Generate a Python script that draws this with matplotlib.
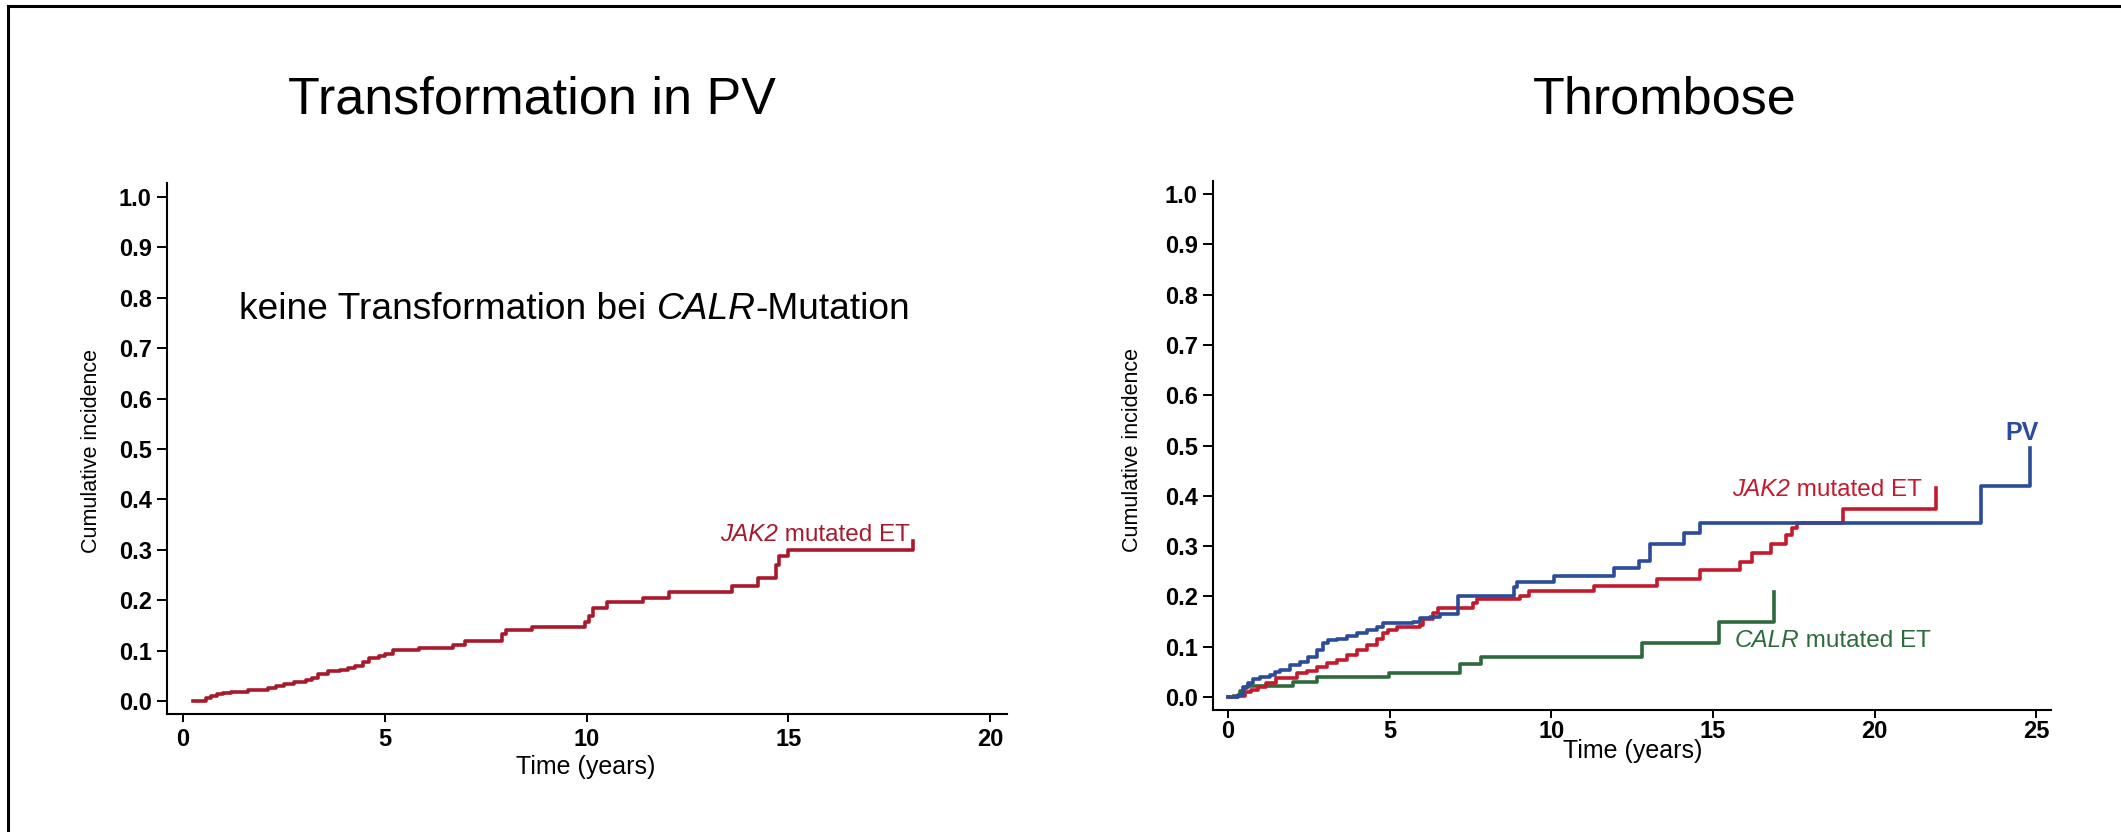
import matplotlib
matplotlib.use("Agg")
import matplotlib.pyplot as plt
from matplotlib.lines import Line2D
from matplotlib.text import Annotation

plt.rcParams['font.family'] = ['Liberation Sans', 'DejaVu Sans']

# Transformation in PV - JAK2 mutated ET (step points, time in years)
pv_jak2_t = [0.25, 0.57, 0.7, 0.85, 1.0, 1.2, 1.6, 2.1, 2.3, 2.5, 2.75, 3.05, 3.2, 3.35, 3.6,
             3.9, 4.1, 4.25, 4.45, 4.6, 4.85, 5.0, 5.2, 5.85, 6.7, 7.0, 7.9, 8.0, 8.65, 9.95,
             10.05, 10.15, 10.5, 11.4, 12.05, 13.6, 14.25, 14.7, 14.78, 15.0, 18.1]
pv_jak2_v = [0.0, 0.006, 0.01, 0.013, 0.016, 0.018, 0.021, 0.025, 0.029, 0.034, 0.038, 0.041,
             0.046, 0.053, 0.059, 0.062, 0.066, 0.070, 0.078, 0.086, 0.089, 0.093, 0.101, 0.106,
             0.112, 0.120, 0.133, 0.140, 0.147, 0.156, 0.168, 0.184, 0.196, 0.205, 0.216, 0.229,
             0.244, 0.27, 0.288, 0.30, 0.318]

# Thrombose - PV
thr_pv_t = [0, 0.3, 0.46, 0.62, 0.77, 0.98, 1.29, 1.45, 1.6, 1.91, 2.22, 2.48, 2.74, 2.94, 3.1,
            3.36, 3.67, 3.98, 4.29, 4.6, 4.8, 5.73, 5.94, 6.25, 6.56, 7.13, 8.85, 8.95, 10.1,
            11.95, 12.7, 13.05, 14.1, 14.6, 23.3, 24.8]
thr_pv_v = [0.0, 0.005, 0.019, 0.027, 0.035, 0.04, 0.043, 0.05, 0.054, 0.063, 0.07, 0.08, 0.093,
            0.107, 0.113, 0.116, 0.121, 0.127, 0.133, 0.14, 0.147, 0.15, 0.157, 0.16, 0.165, 0.2,
            0.218, 0.228, 0.24, 0.256, 0.271, 0.305, 0.327, 0.346, 0.419, 0.496]

# Thrombose - JAK2 mutated ET
thr_jak2_t = [0, 0.31, 0.52, 0.72, 0.93, 1.19, 1.5, 2.12, 2.43, 2.74, 3.05, 3.36, 3.67, 3.98,
              4.29, 4.6, 4.8, 4.96, 5.22, 5.94, 6.04, 6.35, 6.51, 7.59, 7.7, 9.04, 9.3, 11.31,
              13.27, 14.6, 15.84, 16.2, 16.8, 17.26, 17.45, 17.6, 19.03, 21.9]
thr_jak2_v = [0, 0.003, 0.01, 0.014, 0.02, 0.027, 0.038, 0.047, 0.052, 0.06, 0.067, 0.073,
              0.083, 0.093, 0.103, 0.115, 0.127, 0.133, 0.139, 0.143, 0.155, 0.167, 0.177,
              0.187, 0.195, 0.2, 0.21, 0.22, 0.235, 0.252, 0.268, 0.287, 0.305, 0.323, 0.336,
              0.346, 0.374, 0.416]

# Thrombose - CALR mutated ET
thr_calr_t = [0.2, 0.36, 0.5, 0.6, 2.0, 2.76, 4.98, 7.18, 7.83, 12.8, 15.18, 16.9]
thr_calr_v = [0.003, 0.012, 0.018, 0.022, 0.03, 0.039, 0.048, 0.065, 0.079, 0.107, 0.149, 0.208]

y_ticks = [0.0, 0.1, 0.2, 0.3, 0.4, 0.5, 0.6, 0.7, 0.8, 0.9, 1.0]
left_xticks = [0, 5, 10, 15, 20]
right_xticks = [0, 5, 10, 15, 20, 25]

RED_DARK = '#a81a2b'
RED = '#c41a2e'
BLUE = '#2b4c9a'
GREEN = '#2e6b3c'

W, H = 2121, 832
fig = plt.figure(figsize=(W / 100, H / 100), dpi=100)


def make_axes(x0, x1, ytop, ybot):
    return fig.add_axes([x0 / W, 1 - ybot / H, (x1 - x0) / W, (ybot - ytop) / H])


def style(ax, xticks, xpad):
    for s in ['top', 'right']:
        ax.spines[s].set_visible(False)
    for s in ['left', 'bottom']:
        ax.spines[s].set_linewidth(1.5)
    ax.set_yticks(y_ticks)
    ax.set_yticklabels([f"{v:.1f}" for v in y_ticks])
    ax.set_xticks(xticks)
    ax.tick_params(axis='y', length=7, width=1.4, pad=4, labelsize=17)
    ax.tick_params(axis='x', length=6, width=1.4, pad=xpad, labelsize=17)
    for lab in ax.get_xticklabels() + ax.get_yticklabels():
        lab.set_fontweight('bold')


def mixed_text(target, x, y, parts, transform, **kw):
    # parts: list of (string, fontstyle), drawn left to right on one baseline
    prev = target.text(x, y, parts[0][0], style=parts[0][1], ha='left', va='baseline',
                       transform=transform, **kw)
    for s, st in parts[1:]:
        a = Annotation(s, xy=(1, 0), xycoords=prev, style=st, ha='left', va='bottom', **kw)
        fig.add_artist(a)
        prev = a


# left panel
ax1 = make_axes(167, 1007, 183, 714)
ax1.step(pv_jak2_t, pv_jak2_v, where='post', color=RED_DARK, lw=2.6)
ax1.set_xlim(-0.397, 20.42)
ax1.set_ylim(-0.0258, 1.028)
style(ax1, left_xticks, 4)
ax1.set_ylabel('Cumulative incidence', fontsize=15.5, va='center')
ax1.yaxis.set_label_coords(-0.0893, 0.495)
ax1.set_xlabel('Time (years)', fontsize=18, va='center')
ax1.xaxis.set_label_coords(0.499, -0.1)
mixed_text(ax1, 13.3, 0.318, [('JAK2', 'italic'), (' mutated ET', 'normal')],
           ax1.transData, color=RED_DARK, fontsize=17.5)

# right panel
ax2 = make_axes(1213, 2051, 181, 710)
ax2.step(thr_calr_t, thr_calr_v, where='post', color=GREEN, lw=2.6)
ax2.step(thr_jak2_t, thr_jak2_v, where='post', color=RED, lw=2.6)
ax2.step(thr_pv_t, thr_pv_v, where='post', color=BLUE, lw=2.6)
ax2.set_xlim(-0.464, 25.46)
ax2.set_ylim(-0.0258, 1.026)
style(ax2, right_xticks, 1.5)
ax2.set_ylabel('Cumulative incidence', fontsize=15.5, va='center')
ax2.yaxis.set_label_coords(-0.0955, 0.491)
ax2.set_xlabel('Time (years)', fontsize=18, va='center')
ax2.xaxis.set_label_coords(0.501, -0.078)
ax2.text(24.55, 0.525, 'PV', color=BLUE, fontsize=18, fontweight='bold',
         ha='center', va='center')
mixed_text(ax2, 15.6, 0.399, [('JAK2', 'italic'), (' mutated ET', 'normal')],
           ax2.transData, color=RED, fontsize=17.5)
mixed_text(ax2, 15.66, 0.1, [('CALR', 'italic'), (' mutated ET', 'normal')],
           ax2.transData, color=GREEN, fontsize=17.5)

# titles and note
fig.text(532 / W, 0.863, 'Transformation in PV', fontsize=37.5, ha='center', va='baseline')
fig.text(1665 / W, 0.863, 'Thrombose', fontsize=37.5, ha='center', va='baseline')
mixed_text(fig, 239 / W, 0.616,
           [('keine Transformation bei ', 'normal'), ('CALR', 'italic'), ('-Mutation', 'normal')],
           fig.transFigure, fontsize=26.7)

# slide frame
fig.add_artist(Line2D([8 / W, 1], [1 - 6 / H, 1 - 6 / H], color='black', lw=2.2,
                      transform=fig.transFigure))
fig.add_artist(Line2D([8 / W, 8 / W], [0, 1 - 6 / H], color='black', lw=2.2,
                      transform=fig.transFigure))

fig.savefig('out.png', dpi=100)
